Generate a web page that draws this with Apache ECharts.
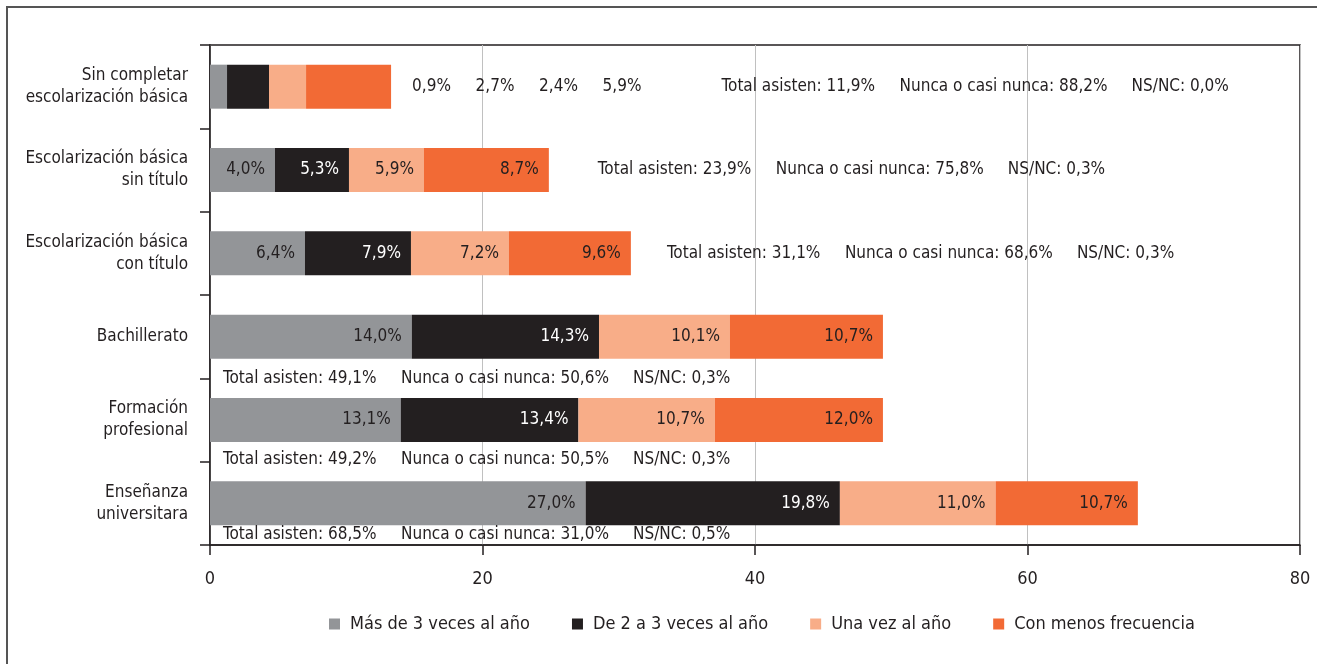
<!DOCTYPE html>
<html>
<head>
<meta charset="utf-8">
<script src="https://cdn.jsdelivr.net/npm/echarts@6/dist/echarts.min.js"></script>
<style>
  html, body { margin: 0; padding: 0; background: #fff; }
  #chart { width: 1317px; height: 664px; }
</style>
</head>
<body>
<div id="chart"></div>
<script>
const echarts = window.echarts

// categorías (de arriba a abajo)
const categories = [
  'Sin completar\nescolarización básica',
  'Escolarización básica\nsin título',
  'Escolarización básica\ncon título',
  'Bachillerato',
  'Formación\nprofesional',
  'Enseñanza\nuniversitara'
]
const seriesNames = ['Más de 3 veces al año', 'De 2 a 3 veces al año', 'Una vez al año', 'Con menos frecuencia']
const colors = ['#939598', '#231f20', '#f8ad88', '#f26a35']

// longitud de las barras tal como se ven en el gráfico
const barMas = [1.25, 4.77, 6.97, 14.81, 14.0, 27.57]
const barDos = [3.08, 5.43, 7.78, 13.74, 13.04, 18.66]
const barUna = [2.72, 5.5, 7.19, 9.61, 10.01, 11.43]
const barMenos = [6.24, 9.17, 8.95, 11.23, 12.34, 10.44]

// porcentajes impresos
const pctMas = [0.9, 4.0, 6.4, 14.0, 13.1, 27.0]
const pctDos = [2.7, 5.3, 7.9, 14.3, 13.4, 19.8]
const pctUna = [2.4, 5.9, 7.2, 10.1, 10.7, 11.0]
const pctMenos = [5.9, 8.7, 9.6, 10.7, 12.0, 10.7]
const totalAsisten = [11.9, 23.9, 31.1, 49.1, 49.2, 68.5]
const nuncaCasiNunca = [88.2, 75.8, 68.6, 50.6, 50.5, 31.0]
const nsnc = [0.0, 0.3, 0.3, 0.3, 0.3, 0.5]

const xTicks = [0, 20, 40, 60, 80]

const FONT = "'DejaVu Sans Condensed', 'Liberation Sans', sans-serif"
const TXT = '#231f20'
const FS = 17

const fmt = v => v.toFixed(1).replace('.', ',') + '%'

const bars = [barMas, barDos, barUna, barMenos]
const pcts = [pctMas, pctDos, pctUna, pctMenos]

const barSeries = bars.map((vals, s) => ({
  name: seriesNames[s],
  type: 'bar',
  stack: 'total',
  barWidth: 44,
  itemStyle: { color: colors[s] },
  label: {
    show: true,
    position: 'insideRight',
    distance: 10,
    fontFamily: FONT,
    fontSize: FS,
    color: s === 1 ? '#ffffff' : TXT,
    formatter: p => fmt(pcts[s][p.dataIndex])
  },
  data: vals.map((v, i) => ({ value: v, label: { show: i !== 0 } }))
}))

// textos de totales
const rich = {
  p: { width: 63.5, fontFamily: FONT, fontSize: FS, color: TXT },
  q: { width: 119, fontFamily: FONT, fontSize: FS, color: TXT },
  t: { width: 178, fontFamily: FONT, fontSize: FS, color: TXT },
  n: { width: 232, fontFamily: FONT, fontSize: FS, color: TXT },
  s: { fontFamily: FONT, fontSize: FS, color: TXT }
}
const noteText = i => {
  let head = ''
  if (i === 0) {
    head = '{p|' + fmt(pctMas[i]) + '}{p|' + fmt(pctDos[i]) + '}{p|' + fmt(pctUna[i]) + '}{q|' + fmt(pctMenos[i]) + '}'
  }
  return head + '{t|Total asisten: ' + fmt(totalAsisten[i]) + '}{n|Nunca o casi nunca: ' + fmt(nuncaCasiNunca[i]) + '}{s|NS/NC: ' + fmt(nsnc[i]) + '}'
}
const noteDist = [21, 49, 36, 13, 13, 13]
const noteDy = [0, 0, 0, 42, 40, 31]
const noteData = categories.map((c, i) => {
  let sum = barMas[i] + barDos[i] + barUna[i] + barMenos[i]
  return {
    value: [i < 3 ? sum : 0, c],
    label: { distance: noteDist[i], offset: [0, noteDy[i]] }
  }
})

const chart = echarts.init(document.getElementById('chart'))
chart.setOption({
  animation: false,
  backgroundColor: '#fff',
  graphic: [{
    type: 'rect',
    shape: { x: 7, y: 7, width: 1400, height: 800 },
    style: { fill: 'none', stroke: '#555', lineWidth: 2 },
    silent: true
  }],
  grid: {
    left: 210,
    right: 17,
    top: 45,
    bottom: 119,
    outerBoundsMode: 'none',
    containLabel: false,
    show: true,
    borderColor: TXT,
    borderWidth: 1.5
  },
  legend: {
    left: 324,
    top: 610,
    icon: 'rect',
    itemWidth: 11,
    itemHeight: 11,
    itemGap: 42,
    textStyle: { fontFamily: FONT, fontSize: 18, color: TXT, padding: [0, 0, 0, 5] },
    data: seriesNames
  },
  xAxis: {
    type: 'value',
    min: xTicks[0],
    max: xTicks[xTicks.length - 1],
    interval: xTicks[1] - xTicks[0],
    axisLine: { show: true, lineStyle: { color: TXT, width: 1.5 } },
    axisTick: { show: true, length: 10, lineStyle: { color: TXT, width: 1.5 } },
    axisLabel: { margin: 25, fontFamily: FONT, fontSize: 18, color: TXT },
    splitLine: { show: true, lineStyle: { color: '#c0c0c0', width: 1 } }
  },
  yAxis: {
    type: 'category',
    inverse: true,
    data: categories,
    axisLine: { show: true, lineStyle: { color: TXT, width: 1.5 } },
    axisTick: { show: true, length: 10, lineStyle: { color: TXT, width: 1.5 } },
    axisLabel: { margin: 22, fontFamily: FONT, fontSize: FS, color: TXT, lineHeight: 22, align: 'right' }
  },
  series: barSeries.concat([{
    type: 'scatter',
    symbolSize: 0,
    silent: true,
    itemStyle: { opacity: 1 },
    label: {
      show: true,
      position: 'right',
      opacity: 1,
      fontFamily: FONT,
      fontSize: FS,
      color: TXT,
      formatter: p => noteText(p.dataIndex),
      rich: rich
    },
    data: noteData
  }])
})
</script>
</body>
</html>
